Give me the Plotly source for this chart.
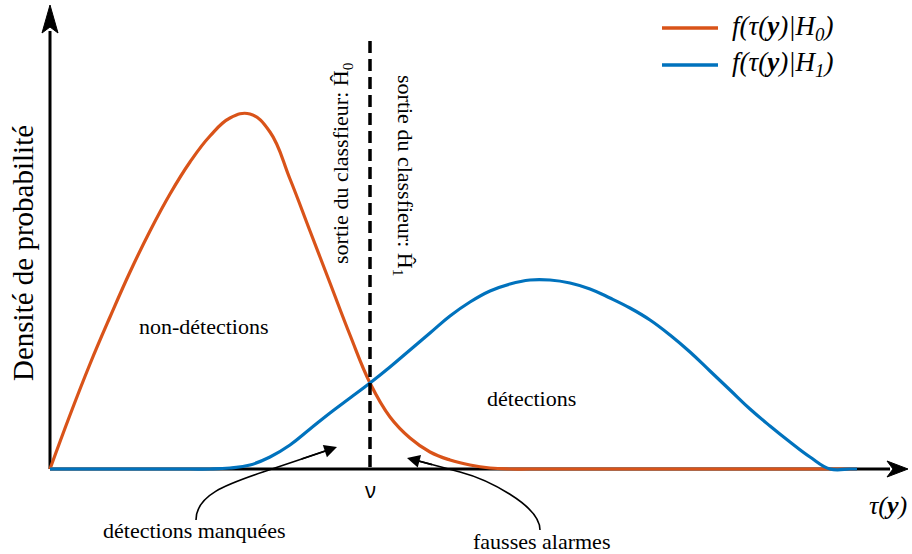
import plotly.graph_objects as go

# Courbes (unites arbitraires ~ pixels)
tau_h0 = [0, 20, 40, 60, 80, 100, 120, 140, 160, 180, 200, 220, 240, 260,
          280, 300, 320, 340, 360, 380, 400, 420, 440, 460, 480, 520, 807]
dens_h0 = [0, 54, 105, 152, 197, 238, 275, 307, 333, 351, 355, 337, 290, 238,
           186, 134, 86, 52, 31, 17, 9, 4, 1, 0, 0, 0, 0]

tau_h1 = [0, 120, 140, 160, 180, 200, 220, 240, 260, 280, 300, 320, 340, 360, 380,
          400, 420, 440, 460, 480, 500, 520, 540, 560, 580, 600, 620, 640, 660,
          680, 700, 720, 740, 760, 780, 800, 807]
dens_h1 = [0, 0, 0, 0, 1, 4, 12, 24, 40, 56, 71, 86, 102, 119, 136,
           153, 167, 178, 185, 189, 189, 186, 180, 171, 161, 149, 134, 117, 98,
           79, 60, 43, 27, 12, 0, 0, 0]

nu = 320          # seuil du classifieur
y_top = 464       # haut de l'axe vertical
x_end = 858       # bout de l'axe horizontal

orange = "#D95319"
blue = "#0072BD"
serif = "Liberation Serif"

fig = go.Figure()
fig.add_trace(go.Scatter(x=tau_h0, y=dens_h0, mode="lines",
                         line=dict(color=orange, width=3.2, shape="spline", smoothing=1.2),
                         showlegend=False, hoverinfo="skip"))
fig.add_trace(go.Scatter(x=tau_h1, y=dens_h1, mode="lines",
                         line=dict(color=blue, width=3.2, shape="spline", smoothing=1.2),
                         showlegend=False, hoverinfo="skip"))

shapes = []
# axes avec fleches
shapes.append(dict(type="line", x0=0, y0=0, x1=x_end - 18, y1=0, layer="below",
                   line=dict(color="black", width=3)))
shapes.append(dict(type="line", x0=0, y0=0, x1=0, y1=y_top - 26, layer="below",
                   line=dict(color="black", width=3)))
shapes.append(dict(type="path", layer="below", fillcolor="black", line=dict(color="black", width=1),
                   path=f"M {x_end},0 L {x_end-21},8 L {x_end-15},0 L {x_end-21},-8 Z"))
shapes.append(dict(type="path", layer="below", fillcolor="black", line=dict(color="black", width=1),
                   path=f"M 0,{y_top} L -8,{y_top-28} L 0,{y_top-22} L 8,{y_top-28} Z"))
# seuil nu
shapes.append(dict(type="line", x0=nu, y0=428, x1=nu, y1=0, layer="above",
                   line=dict(color="black", width=3.5, dash="12px,6px")))
# fleches courbes
shapes.append(dict(type="path", line=dict(color="black", width=1.6),
                   path="M 146,-51 C 146,-26 176,-15.5 213,-3 L 280,19.6"))
shapes.append(dict(type="path", line=dict(color="black", width=1.6),
                   path="M 490,-61 C 490,-36 436.5,-10 410,-3 L 363,9.4"))
# legende
shapes.append(dict(type="line", x0=612, y0=441, x1=668, y1=441,
                   line=dict(color=orange, width=3.5)))
shapes.append(dict(type="line", x0=612, y0=404, x1=668, y1=404,
                   line=dict(color=blue, width=3.5)))

annotations = [
    dict(x=287, y=22, ax=250, ay=9.5, axref="x", ayref="y", text="", showarrow=True,
         arrowhead=2, arrowsize=1.6, arrowwidth=1.6, arrowcolor="black"),
    dict(x=357, y=11, ax=383.5, ay=4, axref="x", ayref="y", text="", showarrow=True,
         arrowhead=2, arrowsize=1.6, arrowwidth=1.6, arrowcolor="black"),
    dict(x=-27, y=216, text="Densité de probabilité", textangle=-90, font=dict(size=29)),
    dict(x=154, y=143, text="non-détections", font=dict(size=22)),
    dict(x=481, y=71, text="détections", font=dict(size=22)),
    dict(x=292, y=306, text="sortie du classfieur: Ĥ<sub>0</sub>", textangle=-90, font=dict(size=22)),
    dict(x=354, y=294, text="sortie du classfieur: Ĥ<sub>1</sub>", textangle=90, font=dict(size=22)),
    dict(x=nu, y=-21, text="ν", font=dict(size=21, family="Noto Sans")),
    dict(x=838, y=-36, text="<i>τ(<b>y</b>)</i>", font=dict(size=26)),
    dict(x=144, y=-61, text="détections manquées", font=dict(size=22)),
    dict(x=491, y=-72, text="fausses alarmes", font=dict(size=22)),
    dict(x=680, y=441, text="<i>f(τ(<b>y</b>)|H<sub>0</sub>)</i>", xanchor="left", font=dict(size=27)),
    dict(x=680, y=405, text="<i>f(τ(<b>y</b>)|H<sub>1</sub>)</i>", xanchor="left", font=dict(size=27)),
]
for a in annotations:
    a.setdefault("showarrow", False)
    a.setdefault("font", {})
    a["font"].setdefault("family", serif)
    a["font"].setdefault("color", "black")

fig.update_layout(
    width=912, height=554,
    margin=dict(l=0, r=0, t=0, b=0),
    plot_bgcolor="white", paper_bgcolor="white",
    xaxis=dict(range=[-50, 862], visible=False, fixedrange=True),
    yaxis=dict(range=[-85, 469], visible=False, fixedrange=True),
    shapes=shapes,
    annotations=annotations,
)

fig.write_html("out.html", config={"displayModeBar": False},
               post_script="document.body.style.margin='0px';")
